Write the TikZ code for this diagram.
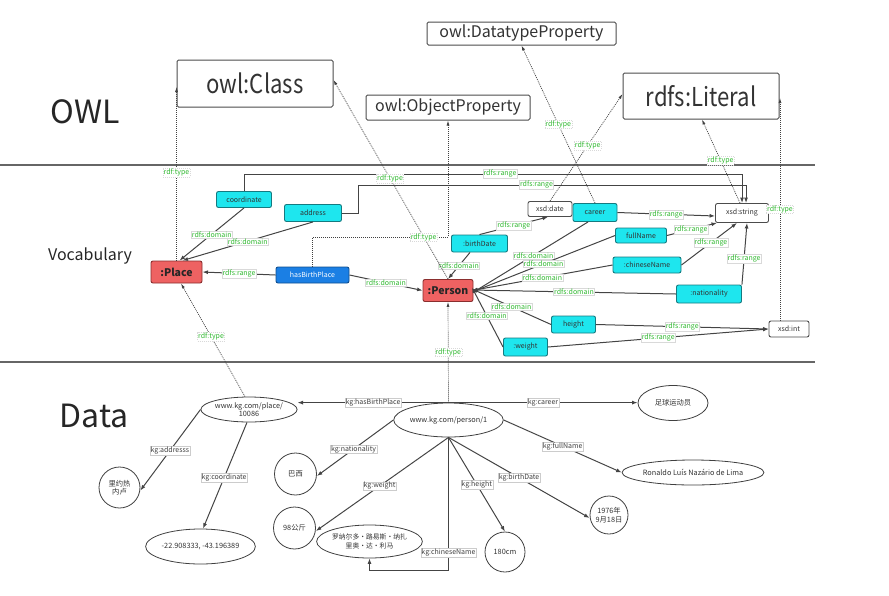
\documentclass[tikz,border=0pt]{standalone}
\usepackage{fontspec}
\setmainfont{Noto Sans CJK SC}
\newfontfamily\narrowfont{Noto Sans CJK SC}[FakeStretch=0.85]
\usetikzlibrary{arrows.meta,shapes.geometric}
\definecolor{cyanf}{HTML}{1EE6EE}
\definecolor{cyand}{HTML}{157A80}
\definecolor{redf}{HTML}{EE6262}
\definecolor{redd}{HTML}{8A2E2E}
\definecolor{bluef}{HTML}{1B7FE4}
\definecolor{blued}{HTML}{0F4E8F}
\definecolor{lgreen}{HTML}{2FB82F}
\definecolor{edgec}{HTML}{444444}
\tikzset{
  sep/.style={draw=black!60, line width=1.8pt},
  bigbox/.style={draw=black!70, line width=1pt, rounded corners=1.5pt, fill=white, inner sep=0pt, text=black!80},
  vbox/.style={draw=cyand, fill=cyanf, line width=0.9pt, rounded corners=2pt, inner sep=0pt, text=black!80, font=\fontsize{7}{8}\selectfont},
  clsbox/.style={draw=redd, fill=redf, line width=0.9pt, rounded corners=2pt, inner sep=0pt, text=black!85, font=\fontsize{10.5}{11}\selectfont\bfseries},
  bluebox/.style={draw=blued, fill=bluef, line width=0.9pt, rounded corners=2pt, inner sep=0pt, text=white, font=\fontsize{7}{8}\selectfont},
  dtbox/.style={draw=black!70, fill=white, line width=0.9pt, rounded corners=2pt, inner sep=0pt, text=black!80, font=\fontsize{7}{8}\selectfont},
  vlab/.style={fill=white, draw=black!15, line width=0.3pt, inner sep=0.7pt, text=lgreen, font=\fontsize{7}{7.5}\selectfont},
  dlab/.style={fill=white, draw=black!20, line width=0.3pt, inner sep=0.7pt, text=black!75, font=\fontsize{7}{7.5}\selectfont},
  edge/.style={draw=edgec, line width=1pt, -{Latex[length=5.5pt,width=4pt]}},
  tedge/.style={draw=black!75, line width=0.7pt, dash pattern=on 1pt off 1pt, -{Latex[length=5pt,width=3pt]}},
  dell/.style={draw=black!75, line width=0.8pt, fill=white, ellipse, inner sep=0pt, align=center, text=black!80, font=\fontsize{7.3}{8.5}\selectfont},
  dcirc/.style={draw=black!75, line width=0.8pt, fill=white, circle, inner sep=0pt, align=center, text=black!80, font=\fontsize{7.3}{8.5}\selectfont},
}
\begin{document}
\begin{tikzpicture}[x=1pt,y=-1pt]
\useasboundingbox (0,0) rectangle (889,595);
% separators
\draw[sep] (0,165) -- (815,165);
\draw[sep] (0,362) -- (815,362);
% section titles
\node[font=\fontsize{32}{32}\selectfont, text=black!85, inner sep=0pt] (towl) at (85,112) {OWL};
\node[font=\fontsize{16}{16}\selectfont, text=black!85, inner sep=0pt] (tvoc) at (90,256) {Vocabulary};
\node[font=\fontsize{32}{32}\selectfont, text=black!85, inner sep=0pt] (tdata) at (94,415.5) {Data};
% OWL layer
\node[bigbox, minimum width=156pt, minimum height=47pt, font=\narrowfont\fontsize{26}{26}\selectfont] (cls) at (255,83.5) {owl:Class};
\node[bigbox, minimum width=164pt, minimum height=25pt, font=\fontsize{16}{16}\selectfont] (objp) at (448,107.5) {owl:ObjectProperty};
\node[bigbox, minimum width=189pt, minimum height=23pt, font=\fontsize{16}{16}\selectfont] (dtp) at (521.5,33.5) {owl:DatatypeProperty};
\node[bigbox, minimum width=156pt, minimum height=46pt, font=\narrowfont\fontsize{26}{26}\selectfont] (lit) at (701,96) {rdfs:Literal};
% vocabulary nodes
\node[clsbox, minimum width=51pt, minimum height=22pt] (place) at (176.5,272) {:Place};
\node[vbox, minimum width=55pt, minimum height=16pt] (coord) at (244,199.5) {coordinate};
\node[vbox, minimum width=57pt, minimum height=17pt] (addr) at (313,213) {address};
\node[bluebox, minimum width=73pt, minimum height=16pt] (hbp) at (312.5,275) {hasBirthPlace};
\node[clsbox, minimum width=50pt, minimum height=22pt] (person) at (448,290.5) {:Person};
\node[dtbox, minimum width=44pt, minimum height=15pt] (xdate) at (550,209) {xsd:date};
\node[vbox, minimum width=44pt, minimum height=18pt] (career) at (595,212.5) {career};
\node[dtbox, minimum width=53pt, minimum height=19pt] (xstr) at (742,213) {xsd:string};
\node[vbox, minimum width=56pt, minimum height=17pt] (bdate) at (479.5,243.5) {:birthDate};
\node[vbox, minimum width=51pt, minimum height=15pt] (fname) at (641,235.5) {fullName};
\node[vbox, minimum width=68pt, minimum height=16pt] (cname) at (647,265) {:chineseName};
\node[vbox, minimum width=65pt, minimum height=18pt] (nat) at (709,294) {:nationality};
\node[vbox, minimum width=44pt, minimum height=17pt] (height) at (573.5,324.5) {height};
\node[vbox, minimum width=44pt, minimum height=18pt] (weight) at (525.5,347) {:weight};
\node[dtbox, minimum width=40pt, minimum height=16pt] (xint) at (789,329) {xsd:int};
% coordinates for routed connectors
\coordinate (c1a) at (244,174);
\coordinate (c1b) at (742,174);
\coordinate (c2a) at (358,213);
\coordinate (c2b) at (358,185);
\coordinate (c2c) at (746,185);
\coordinate (h1) at (312.5,237);
\coordinate (h2) at (448,237);
\coordinate (pdom) at (472,290.5);
% domains / ranges
\draw[edge] (coord.south) -- ([xshift=3pt]place.north) node[vlab, pos=0.5] {rdfs:domain};
\draw[edge] (addr.south) -- ([xshift=6pt]place.north) node[vlab, pos=0.5] {rdfs:domain};
\draw[edge] (coord.north) -- (c1a) -- (c1b) node[vlab, pos=0.514] {rdfs:range} -- (c1b |- xstr.north);
\draw[edge] (addr.east) -- (c2a) -- (c2b) -- (c2c) node[vlab, pos=0.46] {rdfs:range} -- (c2c |- xstr.north);
\draw[edge] (hbp.west) -- (place.east) node[vlab, pos=0.5] {rdfs:range};
\draw[edge] (hbp.east) -- (person.west) node[vlab, pos=0.5] {rdfs:domain};
\draw[edge] ([xshift=-9.5pt]bdate.south) -- (person.north) node[vlab, pos=0.5] {rdfs:domain};
\draw[edge] ([xshift=-7pt]career.south) -- ([yshift=-2.5pt]pdom) node[vlab, pos=0.47] {rdfs:domain};
\draw[edge] (fname.west) -- ([yshift=-1.5pt]pdom) node[vlab, pos=0.5] {rdfs:domain};
\draw[edge] (cname.west) -- (pdom) node[vlab, pos=0.5] {rdfs:domain};
\draw[edge] (nat.west) -- ([yshift=0.5pt]pdom) node[vlab, pos=0.5] {rdfs:domain};
\draw[edge] (height.west) -- ([yshift=1.5pt]pdom) node[vlab, pos=0.5] {rdfs:domain};
\draw[edge] (weight.west) -- ([yshift=3pt]pdom) node[vlab, pos=0.52] {rdfs:domain};
\draw[edge] (bdate.north) -- ([xshift=-2pt]xdate.south) node[vlab, pos=0.5] {rdfs:range};
\draw[edge] (career.east) -- ([yshift=-3pt]xstr.west) node[vlab, pos=0.5] {rdfs:range};
\draw[edge] (fname.east) -- ([xshift=-25pt]xstr.south) node[vlab, pos=0.48] {rdfs:range};
\draw[edge] (cname.east) -- ([xshift=-5pt]xstr.south) node[vlab, pos=0.53] {rdfs:range};
\draw[edge] (nat.north east) -- ([xshift=5pt]xstr.south) node[vlab, pos=0.42] {rdfs:range};
\draw[edge] (height.east) -- (xint.west) node[vlab, pos=0.5] {rdfs:range};
\draw[edge] (weight.east) -- (xint.west) node[vlab, pos=0.5] {rdfs:range};
% rdf:type (vocabulary to OWL)
\draw[tedge] (place.north) -- (place.north |- 0,87) node[vlab, pos=0.506] {rdf:type};
\draw[tedge] (person.north) -- ([yshift=3.5pt]cls.east) node[vlab, pos=0.506] {rdf:type};
\draw[tedge] (hbp.north) -- (h1) -- (h2) node[vlab, pos=0.82] {rdf:type} -- (objp.south);
\draw[tedge] (career.north) -- (dtp.south) node[vlab, pos=0.5] {rdf:type};
\draw[tedge] (xdate.north) -- ([yshift=2pt]lit.west) node[vlab, pos=0.52] {rdf:type};
\draw[tedge] ([xshift=-2pt]xstr.north) -- ([xshift=1pt]lit.south) node[vlab, pos=0.51] {rdf:type};
\draw[tedge] ([xshift=-9pt]xint.north) -- ([xshift=-9pt]xint.north |- 0,98) node[vlab, pos=0.5] {rdf:type};
% data nodes
\node[dell, minimum width=82pt, minimum height=25pt] (dplace) at (249,409.5) {www.kg.com/place/\\10086};
\node[dell, minimum width=100pt, minimum height=34pt] (dperson) at (448.5,420) {www.kg.com/person/1};
\node[dell, minimum width=70pt, minimum height=35pt] (foot) at (673,403) {足球运动员};
\node[dell, minimum width=140pt, minimum height=25pt] (ronaldo) at (693,472.5) {Ronaldo Luís Nazário de Lima};
\node[dcirc, minimum size=38pt] (d1976) at (609,515) {1976年\\9月18日};
\node[dcirc, minimum size=40pt] (h180) at (505,552) {180cm};
\node[dell, minimum width=88pt, minimum height=33pt, font=\fontsize{6.8}{8.5}\selectfont] (dcname) at (369.5,541.5) {罗纳尔多·路易斯·纳扎\\里奥·达·利马};
\node[dcirc, minimum size=42pt] (kg98) at (294.5,528) {98公斤};
\node[dcirc, minimum size=42pt] (brazil) at (295.5,474) {巴西};
\node[dcirc, minimum size=41pt] (rio) at (119.5,487.5) {里约热\\内卢};
\node[dell, minimum width=106pt, minimum height=35pt] (dcoord) at (200.5,546.5) {-22.908333, -43.196389};
\coordinate (cn1) at (448.5,570);
\coordinate (cn2) at (369.5,570);
% data edges
\draw[edge] (dperson.north) -- (dperson.north -| dplace.east) node[dlab, pos=0.5] {kg:hasBirthPlace};
\draw[edge] (dperson.north) -- (dperson.north -| foot.west) node[dlab, pos=0.5] {kg:career};
\draw[edge] (dplace.west) -- ([yshift=-3pt]rio.east) node[dlab, pos=0.51] {kg:addresss};
\draw[edge] ([xshift=-2pt]dplace.south) -- ([xshift=2.5pt]dcoord.north) node[dlab, pos=0.52] {kg:coordinate};
\draw[edge] (dperson.west) -- ([yshift=-2pt]brazil.east) node[dlab, pos=0.52] {kg:nationality};
\draw[edge] (dperson.south) -- ([yshift=-3pt]kg98.east) node[dlab, pos=0.52] {kg:weight};
\draw[edge] (dperson.south) -- (cn1) node[dlab, pos=0.87] {kg:chineseName} -- (cn2) -- (dcname.south);
\draw[edge] (dperson.south) -- (h180.north) node[dlab, pos=0.5] {kg:height};
\draw[edge] (dperson.south) -- ([yshift=-3pt]d1976.west) node[dlab, pos=0.5] {kg:birthDate};
\draw[edge] (dperson.east) -- (ronaldo.west) node[dlab, pos=0.5] {kg:fullName};
% rdf:type (data to vocabulary)
\draw[tedge] ([xshift=-4pt]dplace.north) -- ([xshift=4.5pt]place.south) node[vlab, pos=0.53] {rdf:type};
\draw[tedge] (dperson.north) -- (person.south) node[vlab, pos=0.5] {rdf:type};
\end{tikzpicture}
\end{document}
